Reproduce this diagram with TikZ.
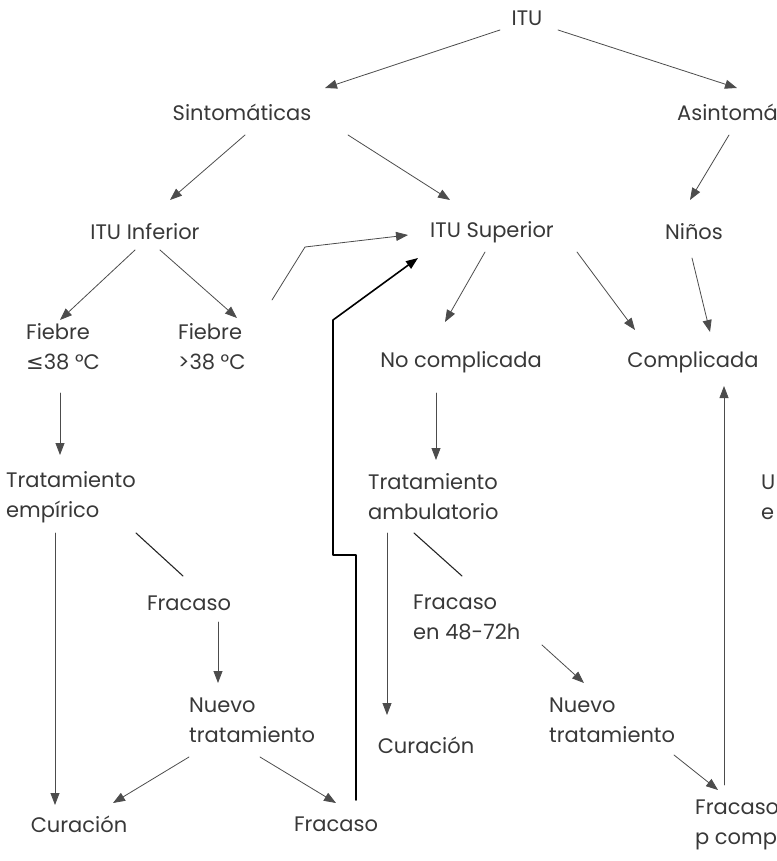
\documentclass[tikz,border=0pt]{standalone}
\usepackage{fontspec}
\setmainfont{Poppins}
\newfontfamily\symf{DejaVu Sans}
\usetikzlibrary{arrows.meta,calc}
\definecolor{txtgray}{gray}{0.22}
\definecolor{lngray}{gray}{0.3}

\begin{document}
\begin{tikzpicture}[x=1pt,y=-1pt,line cap=round,line join=round,
  >={Triangle[length=12pt,width=9pt]},
  lbl/.style={inner sep=0pt,text=txtgray,font=\fontsize{21}{30}\selectfont},
  lbl2/.style={lbl,align=left,anchor=west},
  flecha/.style={->,draw=lngray,line width=0.8pt},
  raya/.style={draw=black!85,line width=1.1pt},
  gruesa/.style={->,draw=black,line width=1.6pt}]
\useasboundingbox (0,0) rectangle (776,861);
\clip (0,0) rectangle (776,861);

% nodos
\node[lbl] (itu) at (527,18) {ITU};
\node[lbl] (sint) at (242,112) {Sintomáticas};
\node[lbl,anchor=west] (asint) at (677,112) {Asintomáticas};
\node[lbl] (itui) at (145,232) {ITU Inferior};
\node[lbl] (itus) at (492,232) {ITU Superior};
\node[lbl] (ninos) at (694,232) {Niños};
\node[lbl2] (fbaja) at (26,347) {Fiebre\\{\symf ≤}38 °C};
\node[lbl2] (falta) at (178,347) {Fiebre\\>38 °C};
\node[lbl] (nocomp) at (461,362) {No complicada};
\node[lbl] (comp) at (693,362) {Complicada};
\node[lbl2] (trate) at (6,497) {Tratamiento\\empírico};
\node[lbl2] (trata) at (368,497) {Tratamiento\\ambulatorio};
\node[lbl2] (resto) at (761,497) {U\\e};
\node[lbl] (fraca) at (189,603) {Fracaso};
\node[lbl2] (frac48) at (413,617) {Fracaso\\en 48-72h};
\node[lbl2] (nuevoa) at (189,720) {Nuevo\\tratamiento};
\node[lbl] (cura) at (426,745) {Curación};
\node[lbl2] (nuevob) at (549,720) {Nuevo\\tratamiento};
\node[lbl] (curb) at (79,824) {Curación};
\node[lbl] (fracb) at (336,824) {Fracaso};
\node[lbl2] (fracp) at (695,825) {Fracaso\\p complicada};

% flechas
\draw[flecha] ($(itu)+(-27,12)$) -- ($(sint)+(83,-24)$);
\draw[flecha] ($(itu)+(31,12)$) -- ($(asint.west)+(60,-24)$);
\draw[flecha] ($(sint)+(3,23)$) -- ($(itui)+(25,-32)$);
\draw[flecha] ($(sint)+(106,23)$) -- ($(itus)+(-42,-32)$);
\draw[flecha] ($(asint.west)+(52,23)$) -- ($(ninos)+(-4,-32)$);
\draw[flecha] ($(itui)+(-10,18)$) -- ($(fbaja.west)+(34,-27)$);
\draw[flecha] ($(itui)+(15,18)$) -- ($(falta.west)+(59,-29)$);
\draw[flecha] ($(falta.west)+(94,-47)$) -- ($(itus)+(-187,15)$) -- ($(itus)+(-84,3)$);
\draw[gruesa] ($(fracb)+(20,-24)$) -- ++(0,-245) -- ++(-23,0) -- ++(0,-235) -- ($(itus)+(-74,26)$);
\draw[flecha] ($(itus)+(-7,20)$) -- ($(nocomp)+(-16,-40)$);
\draw[flecha] ($(itus)+(85,20)$) -- ($(comp)+(-58,-32)$);
\draw[flecha] ($(ninos)+(-2,26)$) -- ($(comp)+(17,-30)$);
\draw[flecha] ($(fbaja.west)+(34,46)$) -- ($(trate.west)+(54,-42)$);
\draw[flecha] ($(nocomp)+(-25,31)$) -- ($(trata.west)+(68,-37)$);
\draw[raya] ($(trate.west)+(130,36)$) -- ($(fraca)+(-6,-27)$);
\draw[raya] ($(trata.west)+(46,36)$) -- ($(frac48.west)+(49,-41)$);
\draw[flecha] ($(trate.west)+(49,36)$) -- ($(curb)+(-24,-19)$);
\draw[flecha] ($(fraca)+(29,19)$) -- ($(nuevoa.west)+(29,-37)$);
\draw[flecha] ($(nuevoa.west)+(0,37)$) -- ($(curb)+(34,-21)$);
\draw[flecha] ($(nuevoa.west)+(71,37)$) -- ($(fracb)+(0,-21)$);
\draw[flecha] ($(trata.west)+(19,36)$) -- ($(cura)+(-39,-30)$);
\draw[flecha] ($(frac48.west)+(129,28)$) -- ($(nuevob.west)+(35,-37)$);
\draw[flecha] ($(nuevob.west)+(125,35)$) -- ($(fracp.west)+(23,-35)$);
\draw[flecha] ($(fracp.west)+(29,-40)$) -- ($(comp)+(31,24)$);
\end{tikzpicture}
\end{document}
